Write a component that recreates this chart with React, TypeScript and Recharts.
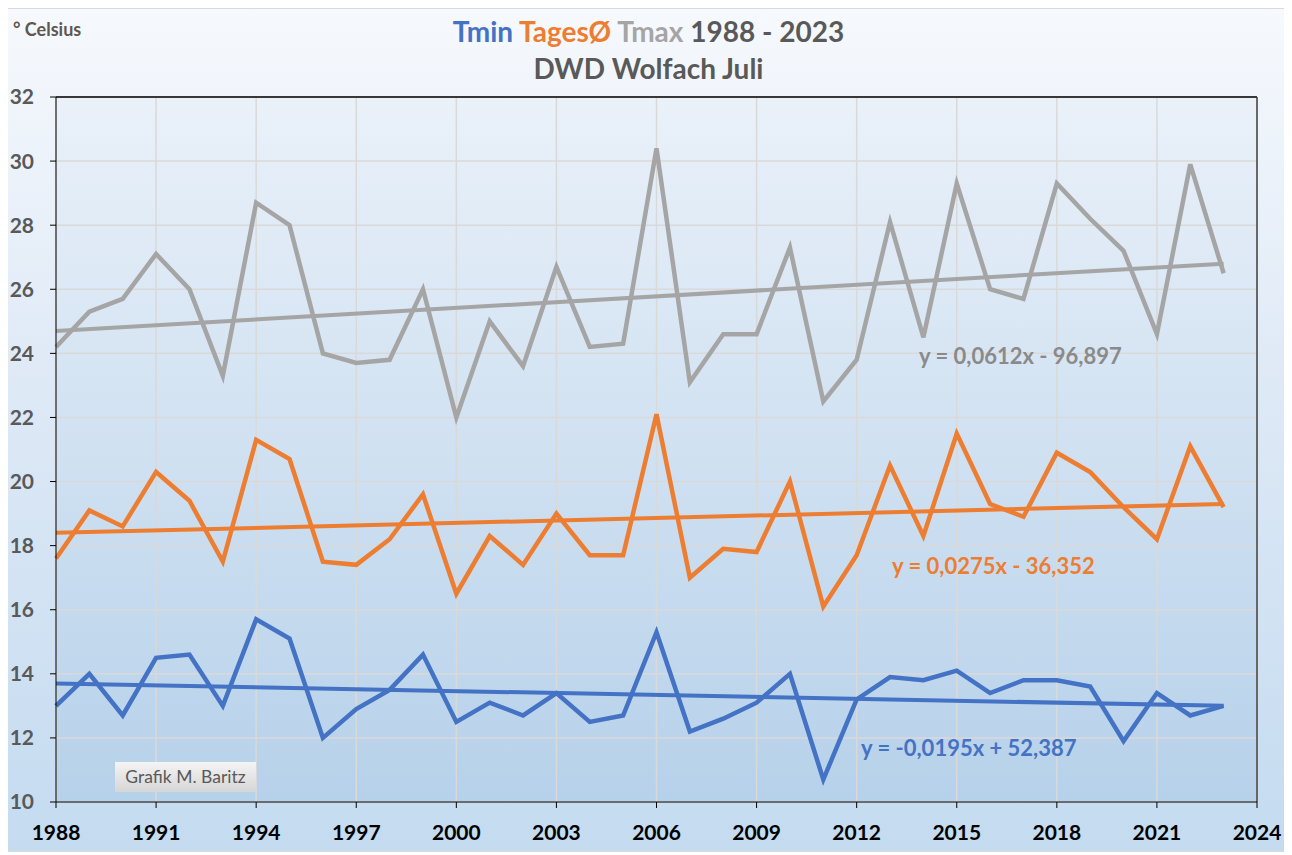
import { CartesianGrid, Line, LineChart, ReferenceLine, XAxis, YAxis } from "recharts";

// July monthly means, DWD station Wolfach, 1988-2023
const years = [
  1988, 1989, 1990, 1991, 1992, 1993, 1994, 1995, 1996, 1997, 1998, 1999,
  2000, 2001, 2002, 2003, 2004, 2005, 2006, 2007, 2008, 2009, 2010, 2011,
  2012, 2013, 2014, 2015, 2016, 2017, 2018, 2019, 2020, 2021, 2022, 2023,
];
const tmax = [
  24.2, 25.3, 25.7, 27.1, 26.0, 23.3, 28.7, 28.0, 24.0, 23.7, 23.8, 26.0,
  22.0, 25.0, 23.6, 26.7, 24.2, 24.3, 30.4, 23.1, 24.6, 24.6, 27.3, 22.5,
  23.8, 28.1, 24.5, 29.3, 26.0, 25.7, 29.3, 28.2, 27.2, 24.6, 29.9, 26.5,
];
const tages = [
  17.6, 19.1, 18.6, 20.3, 19.4, 17.5, 21.3, 20.7, 17.5, 17.4, 18.2, 19.6,
  16.5, 18.3, 17.4, 19.0, 17.7, 17.7, 22.1, 17.0, 17.9, 17.8, 20.0, 16.1,
  17.7, 20.5, 18.3, 21.5, 19.3, 18.9, 20.9, 20.3, 19.2, 18.2, 21.1, 19.2,
];
const tmin = [
  13.0, 14.0, 12.7, 14.5, 14.6, 13.0, 15.7, 15.1, 12.0, 12.9, 13.5, 14.6,
  12.5, 13.1, 12.7, 13.4, 12.5, 12.7, 15.3, 12.2, 12.6, 13.1, 14.0, 10.7,
  13.2, 13.9, 13.8, 14.1, 13.4, 13.8, 13.8, 13.6, 11.9, 13.4, 12.7, 13.0,
];

// linear trend end points (1988 / 2023) as drawn in the original
const trendYears = [1988, 2023];
const tmaxTrend = [24.7, 26.8];
const tagesTrend = [18.4, 19.3];
const tminTrend = [13.7, 13.0];

const xTicks = [1988, 1991, 1994, 1997, 2000, 2003, 2006, 2009, 2012, 2015, 2018, 2021, 2024];
const yTicks = [10, 12, 14, 16, 18, 20, 22, 24, 26, 28, 30, 32];

const BLUE = "#4472c4";
const ORANGE = "#ed7d31";
const GRAY = "#a5a5a5";
const FONT = "Lato, 'Open Sans', sans-serif";

const data = years.map((year, i) => ({ year, tmax: tmax[i], tages: tages[i], tmin: tmin[i] }));

const seg = (ys: number[]) => [
  { x: trendYears[0], y: ys[0] },
  { x: trendYears[1], y: ys[1] },
];

export default function App() {
  return (
    <div
      style={{
        position: "relative",
        width: 1283,
        height: 844,
        boxSizing: "border-box",
        border: "1px solid #d9d9d9",
        background: "linear-gradient(180deg, #f6f9fd 0%, #dee9f6 45%, #c4dbf0 100%)",
        fontFamily: FONT,
        marginLeft: -1,
      }}
    >
      <svg width={0} height={0} style={{ position: "absolute" }}>
        <defs>
          <linearGradient id="plotBg" x1="0" y1="0" x2="0" y2="1">
            <stop offset="0%" stopColor="#eaf1f9" />
            <stop offset="100%" stopColor="#b6d1ea" />
          </linearGradient>
        </defs>
      </svg>

      <LineChart width={1281} height={842} data={data} margin={{ top: 88, right: 32, bottom: 9, left: 0 }}>
        <CartesianGrid stroke="#d9d9d9" strokeWidth={1.5} fill="url(#plotBg)" />
        <XAxis
          dataKey="year"
          type="number"
          domain={[1988, 2024]}
          ticks={xTicks}
          interval={0}
          height={40}
          stroke="#000"
          tickSize={6}
          tickMargin={17}
          tick={{ fill: "#000", fontSize: 21, fontWeight: 700, fontFamily: FONT }}
        />
        <YAxis
          type="number"
          domain={[10, 32]}
          ticks={yTicks}
          interval={0}
          width={48}
          stroke="#000"
          tickSize={6}
          tickMargin={16}
          tick={{ fill: "#595959", fontSize: 21, fontWeight: 700, fontFamily: FONT }}
        />
        <ReferenceLine y={32} stroke="#000" strokeWidth={1.5} />
        <ReferenceLine x={2024} stroke="#404040" strokeWidth={1.5} />
        <Line dataKey="tmax" stroke={GRAY} strokeWidth={4.5} dot={false} isAnimationActive={false} />
        <Line dataKey="tages" stroke={ORANGE} strokeWidth={4.5} dot={false} isAnimationActive={false} />
        <Line dataKey="tmin" stroke={BLUE} strokeWidth={4.5} dot={false} isAnimationActive={false} />
        <ReferenceLine segment={seg(tmaxTrend)} stroke={GRAY} strokeWidth={4} />
        <ReferenceLine segment={seg(tagesTrend)} stroke={ORANGE} strokeWidth={4} />
        <ReferenceLine segment={seg(tminTrend)} stroke={BLUE} strokeWidth={4} />
      </LineChart>

      <div style={{ position: "absolute", left: 5, top: 9, fontSize: 18, fontWeight: 700, color: "#5f5750" }}>° Celsius</div>
      <div
        style={{
          position: "absolute",
          left: 0,
          right: 0,
          top: 5,
          textAlign: "center",
          fontSize: 28,
          fontWeight: 700,
          lineHeight: "34px",
          color: "#595959",
        }}
      >
        <div>
          <span style={{ color: BLUE }}>Tmin</span> <span style={{ color: ORANGE }}>TagesØ</span>{" "}
          <span style={{ color: GRAY }}>Tmax</span> 1988 - 2023
        </div>
        <div style={{ marginTop: 3 }}>DWD Wolfach Juli</div>
      </div>

      <div style={{ position: "absolute", left: 911, top: 333, fontSize: 22, fontWeight: 700, color: "#8a8a8a" }}>
        y = 0,0612x - 96,897
      </div>
      <div style={{ position: "absolute", left: 884, top: 543, fontSize: 22, fontWeight: 700, color: ORANGE }}>
        y = 0,0275x - 36,352
      </div>
      <div style={{ position: "absolute", left: 853, top: 725, fontSize: 22, fontWeight: 700, color: BLUE }}>
        y = -0,0195x + 52,387
      </div>

      <div
        style={{
          position: "absolute",
          left: 107,
          top: 753,
          width: 141,
          height: 30,
          lineHeight: "30px",
          textAlign: "center",
          fontSize: 17.5,
          color: "#595959",
          background: "linear-gradient(180deg, #f4f4f4 0%, #d6d6d6 100%)",
          whiteSpace: "nowrap",
        }}
      >
        Grafik M. Baritz
      </div>
    </div>
  );
}
